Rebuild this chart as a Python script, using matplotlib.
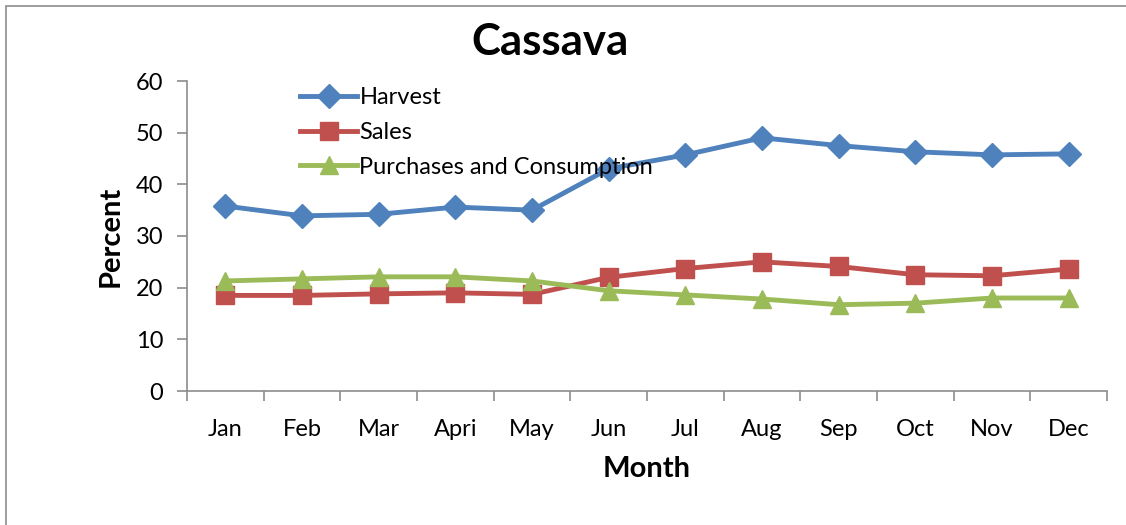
import matplotlib
matplotlib.use("Agg")
import matplotlib.pyplot as plt
from matplotlib.patches import Rectangle

months = ["Jan", "Feb", "Mar", "Apri", "May", "Jun", "Jul", "Aug", "Sep", "Oct", "Nov", "Dec"]
harvest = [35.8, 33.9, 34.2, 35.6, 35.0, 43.0, 45.7, 49.0, 47.5, 46.3, 45.7, 45.9]
sales = [18.5, 18.5, 18.8, 19.0, 18.7, 22.0, 23.7, 25.0, 24.1, 22.5, 22.3, 23.6]
purchases = [21.3, 21.7, 22.1, 22.1, 21.3, 19.4, 18.6, 17.8, 16.7, 17.0, 18.0, 18.0]
series_names = ["Harvest", "Sales", "Purchases and Consumption"]
y_ticks = [0, 10, 20, 30, 40, 50, 60]

plt.rcParams['font.family'] = ['Lato', 'DejaVu Sans']

W, H = 1126, 525
fig = plt.figure(figsize=(W / 100, H / 100), dpi=100)
fig.patch.set_facecolor("white")

# outer chart border
fig.add_artist(Rectangle((6 / W, -0.01), 1.2, 1 - 6 / H + 0.01, transform=fig.transFigure,
                         fill=False, edgecolor="#8c8c8c", linewidth=1.2))

ax = fig.add_axes([187 / W, 1 - 391 / H, (1107 - 187) / W, (391 - 81) / H])
x = list(range(len(months)))

ax.plot(x, harvest, color="#4F81BD", lw=3.5, marker="D", ms=12, label=series_names[0])
ax.plot(x, sales, color="#C0504D", lw=3.5, marker="s", ms=13, label=series_names[1])
ax.plot(x, purchases, color="#9BBB59", lw=3.5, marker="^", ms=13, label=series_names[2])

ax.set_xlim(-0.5, len(months) - 0.5)
ax.set_ylim(0, 60)
ax.set_yticks(y_ticks)
ax.set_xticks([i - 0.5 for i in range(len(months) + 1)])
ax.set_xticklabels([])
ax.set_xticks(x, minor=True)
ax.set_xticklabels(months, minor=True)
ax.tick_params(axis="x", which="major", length=7, width=1.2, color="#8c8c8c", direction="out")
ax.tick_params(axis="x", which="minor", length=0, pad=20, labelsize=17)
ax.tick_params(axis="y", length=7, width=1.2, color="#8c8c8c", direction="out", labelsize=17, pad=10)

for s in ["top", "right"]:
    ax.spines[s].set_visible(False)
for s in ["left", "bottom"]:
    ax.spines[s].set_color("#8c8c8c")
    ax.spines[s].set_linewidth(1.2)

ax.set_xlabel("Month", fontsize=21, fontweight="bold", labelpad=12)
ax.set_ylabel("Percent", fontsize=21, fontweight="bold", labelpad=9)

fig.text(550 / W, 1 - 42 / H, "Cassava", ha="center", va="center", fontsize=31.5, fontweight="bold")

leg = ax.legend(loc="upper left", bbox_to_anchor=((291 - 187) / (1107 - 187), 1.01),
                frameon=False, fontsize=17, handlelength=2.4, handletextpad=0.1,
                labelspacing=0.58, borderaxespad=0)

fig.savefig("out.png", dpi=100, facecolor="white")
